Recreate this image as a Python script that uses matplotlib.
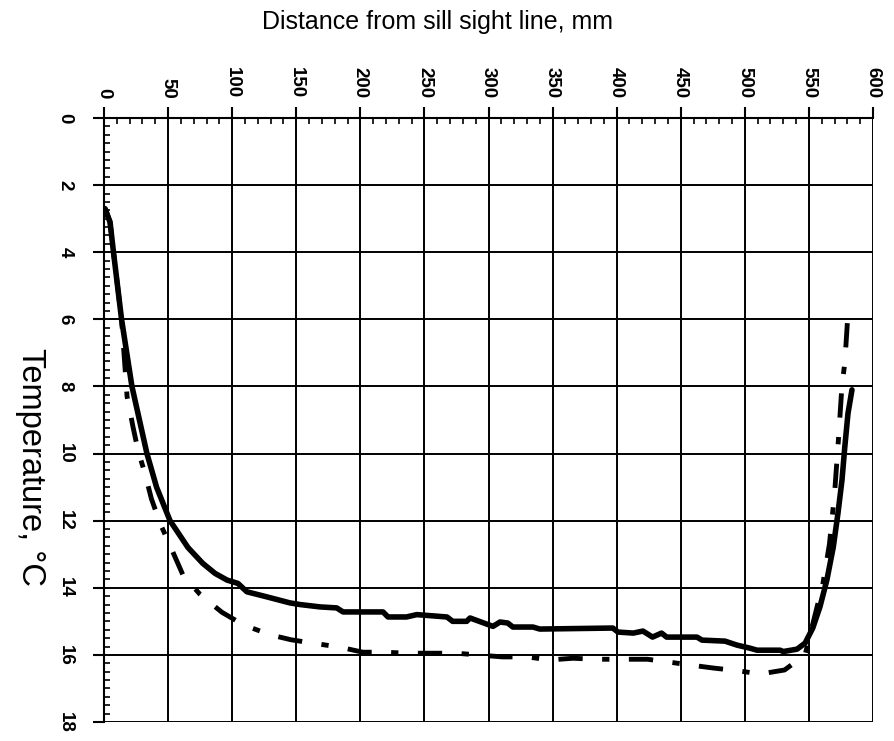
import matplotlib
matplotlib.use("Agg")
import matplotlib.pyplot as plt
from matplotlib.ticker import MultipleLocator

plt.rcParams['font.family'] = ['Liberation Sans', 'DejaVu Sans']

# solid curve: distance (mm) vs temperature (C)
solid_mm = [0.8, 4.7, 7.4, 13.7, 21.8, 33.5, 41, 51.5, 65.5, 77, 86.6, 96, 104.5, 111.5,
            127, 145, 153, 168.5, 181.6, 186.5, 217.7, 221.6, 236, 244, 267.6, 272, 283,
            285.6, 303.5, 309, 315, 319, 334.7, 340, 397, 401, 413, 420.5, 428, 435, 439,
            462.7, 466.6, 484.5, 494, 504, 509.5, 527.5, 530, 540.7, 547, 553, 558.6, 564,
            569, 572.7, 575.8, 578, 580.5, 583.6]
solid_T = [2.7, 3.1, 4.0, 6.0, 8.0, 10.0, 11.0, 12.0, 12.8, 13.27, 13.57, 13.77, 13.87, 14.12,
           14.27, 14.45, 14.5, 14.57, 14.6, 14.72, 14.72, 14.87, 14.87, 14.8, 14.87, 15.0, 15.0,
           14.9, 15.15, 15.02, 15.05, 15.17, 15.17, 15.23, 15.2, 15.32, 15.35, 15.29, 15.47, 15.35, 15.47,
           15.47, 15.56, 15.59, 15.71, 15.8, 15.86, 15.86, 15.9, 15.83, 15.65, 15.2, 14.57, 13.77,
           12.79, 11.77, 10.79, 9.8, 8.8, 8.1]

# dashed curve
dash_mm = [0.8, 4.7, 7.4, 13.7, 18, 22.6, 26.5, 32, 37, 44, 50.7, 61.6, 75, 92, 108.5, 129.5,
           146, 163, 184, 202, 219, 236, 275, 291, 311, 330, 348, 366, 383, 403, 424, 440,
           457, 475, 496, 512, 531, 547, 561, 566, 570, 573, 575.8, 578, 580.5]
dash_T = [2.7, 3.1, 4.0, 6.0, 8.3, 9.2, 9.9, 10.6, 11.35, 12.1, 12.67, 13.62, 14.2, 14.73, 15.1, 15.4,
          15.55, 15.65, 15.77, 15.92, 15.92, 15.95, 15.95, 16.0, 16.06, 16.06, 16.15, 16.1, 16.13, 16.13, 16.13, 16.21,
          16.3, 16.39, 16.48, 16.57, 16.45, 16.0, 13.86, 12.7, 11.2, 9.6, 7.96, 7.3, 5.8]

fig = plt.figure(figsize=(8.94, 7.41), dpi=100)
ax = fig.add_axes([104/894, 1 - 722/741, (873 - 104)/894, (722 - 118)/741])

ax.plot(dash_mm, dash_T, color='black', lw=3.5, linestyle=(0, (5, 4, 1.5, 4)))
ax.plot(solid_mm, solid_T, color='black', lw=4, solid_capstyle='round')

ax.set_xlim(0, 600)
ax.set_ylim(18, 0)

ax.xaxis.tick_top()
ax.xaxis.set_major_locator(MultipleLocator(50))
ax.xaxis.set_minor_locator(MultipleLocator(10))
ax.yaxis.set_major_locator(MultipleLocator(2))
ax.yaxis.set_minor_locator(MultipleLocator(0.25))

ax.tick_params(which='major', direction='out', length=8, width=1.5, labelsize=13.5)
ax.tick_params(which='minor', direction='in', length=4, width=1.2)
ax.tick_params(axis='x', which='both', top=True, bottom=False, pad=6)
ax.tick_params(axis='y', which='both', left=True, right=False, pad=14)

for lab in ax.get_xticklabels():
    lab.set_rotation(-90)
    lab.set_va('bottom')
    lab.set_ha('center')
    lab.set_fontweight('bold')
for lab in ax.get_yticklabels():
    lab.set_rotation(-90)
    lab.set_va('center')
    lab.set_ha('right')
    lab.set_fontweight('bold')

ax.grid(True, which='major', color='black', lw=1.4)
ax.xaxis.get_gridlines()[-1].set_visible(False)
ax.yaxis.get_gridlines()[-1].set_visible(False)

for side in ['right', 'bottom']:
    ax.spines[side].set_visible(False)
for side in ['left', 'top']:
    ax.spines[side].set_linewidth(1.5)

fig.text(437/894, 1 - 22/741, 'Distance from sill sight line, mm', ha='center', va='center', fontsize=18)
fig.text(30/894, 1 - 467/741, 'Temperature, °C', ha='center', va='center', rotation=-90, fontsize=23.5)

fig.savefig('out.png', dpi=100)
